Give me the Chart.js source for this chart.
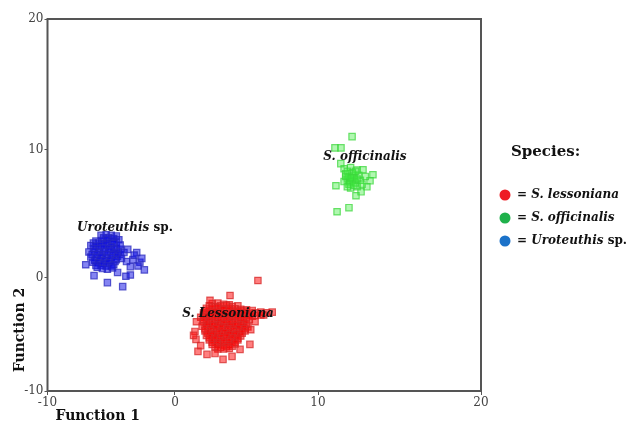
<!DOCTYPE html>
<html>
<head>
<meta charset="utf-8">
<script src="https://cdn.jsdelivr.net/npm/chart.js@4.4.1/dist/chart.umd.min.js"></script>
<style>
  html, body { margin: 0; padding: 0; background: #fff; }
  #wrap { width: 633px; height: 425px; }
</style>
</head>
<body>
<div id="wrap"><canvas id="dfaChart" width="633" height="425"></canvas></div>
<script>
'use strict';

// data
const species = ['S. lessoniana', 'S. officinalis', 'Uroteuthis sp.'];

const lessoniana = [
  [2.6, -2.3], [3.0, -2.25], [3.4, -2.35], [3.8, -2.4],
  [2.4, -2.5], [2.8, -2.55], [3.2, -2.5], [3.6, -2.45], [4.0, -2.55], [4.4, -2.5],
  [2.2, -2.7], [2.6, -2.7], [3.0, -2.65], [3.4, -2.75], [3.8, -2.7], [4.2, -2.75], [4.6, -2.8], [5.0, -2.85],
  [2.2, -2.9], [2.6, -2.95], [3.0, -2.9], [3.4, -2.85], [3.8, -2.9], [4.2, -2.95], [4.6, -2.9], [5.0, -2.95], [5.4, -2.9],
  [2.0, -3.1], [2.4, -3.1], [2.8, -3.05], [3.2, -3.1], [3.6, -3.15], [4.0, -3.1], [4.4, -3.05], [4.8, -3.1],
  [5.2, -3.15], [5.6, -3.1], [6.0, -3.05], [6.4, -3.1], [6.8, -3.05],
  [2.0, -3.3], [2.4, -3.35], [2.8, -3.3], [3.2, -3.25], [3.6, -3.3], [4.0, -3.35], [4.4, -3.3], [4.8, -3.25],
  [5.2, -3.3], [5.6, -3.35], [6.0, -3.3],
  [1.8, -3.5], [2.2, -3.5], [2.6, -3.45], [3.0, -3.5], [3.4, -3.55], [3.8, -3.5], [4.2, -3.45], [4.6, -3.5],
  [5.0, -3.55], [5.4, -3.4], [6.2, -3.3],
  [2.0, -3.7], [2.4, -3.75], [2.8, -3.7], [3.2, -3.65], [3.6, -3.7], [4.0, -3.75], [4.4, -3.7], [4.8, -3.65], [5.2, -3.7],
  [2.0, -3.9], [2.4, -3.9], [2.8, -3.95], [3.2, -3.9], [3.6, -3.85], [4.0, -3.9], [4.4, -3.95], [4.8, -3.9],
  [2.2, -4.1], [2.6, -4.1], [3.0, -4.15], [3.4, -4.1], [3.8, -4.05], [4.2, -4.1], [4.6, -4.15], [5.0, -4.1],
  [1.9, -4.3], [2.3, -4.3], [2.7, -4.25], [3.1, -4.3], [3.5, -4.35], [3.9, -4.3], [4.3, -4.25], [4.7, -4.3], [5.1, -4.35],
  [2.1, -4.5], [2.5, -4.55], [2.9, -4.5], [3.3, -4.45], [3.7, -4.5], [4.1, -4.55], [4.5, -4.5], [4.9, -4.5],
  [2.1, -4.7], [2.5, -4.7], [2.9, -4.75], [3.3, -4.7], [3.7, -4.65], [4.1, -4.7], [4.5, -4.75], [4.9, -4.7],
  [2.3, -4.9], [2.7, -4.95], [3.1, -4.9], [3.5, -4.85], [3.9, -4.9], [4.3, -4.95], [4.7, -4.9],
  [2.2, -5.1], [2.6, -5.1], [3.0, -5.15], [3.4, -5.1], [3.8, -5.05], [4.2, -5.1], [4.6, -5.15],
  [2.4, -5.3], [2.8, -5.35], [3.2, -5.3], [3.6, -5.25], [4.0, -5.3], [4.4, -5.35],
  [2.4, -5.5], [2.8, -5.5], [3.2, -5.55], [3.6, -5.5], [4.0, -5.45], [4.4, -5.5],
  [2.6, -5.7], [3.0, -5.75], [3.4, -5.7], [3.8, -5.65], [4.2, -5.7],
  [2.6, -5.9], [3.0, -5.9], [3.4, -5.95], [3.8, -5.9], [4.2, -5.85],
  [2.8, -6.1], [3.2, -6.15], [3.6, -6.1], [4.0, -6.05],
  [3.0, -6.3], [3.4, -6.3], [3.8, -6.25],
  [5.8, -0.26], [3.85, -1.58], [1.4, -4.75], [1.47, -5.45], [1.61, -6.51], [2.24, -6.77], [3.36, -7.21],
  [3.99, -6.95], [4.55, -6.33], [5.24, -5.89], [5.3, -4.6], [2.45, -2.0], [1.5, -3.9], [5.6, -3.9],
  [1.8, -6.0], [2.8, -6.7], [1.3, -5.1],
];

const officinalis = [
  [11.6, 8.5], [12.0, 8.6], [12.4, 8.4], [11.7, 8.1], [12.1, 8.2], [12.5, 8.0], [11.8, 7.7], [12.2, 7.8],
  [12.6, 7.6], [11.9, 7.3], [12.3, 7.4], [12.0, 7.0], [12.4, 7.1], [11.6, 7.5], [12.1, 7.6], [11.9, 7.9],
  [12.2, 8.0], [11.95, 7.5], [11.8, 8.3], [12.3, 8.3], [12.0, 7.8], [12.4, 7.7], [11.8, 7.1], [12.2, 7.2],
  [11.7, 7.9],
  [12.09, 10.99], [11.04, 10.13], [11.41, 10.13], [12.76, 8.42], [13.37, 8.03], [13.19, 7.56], [13.0, 7.09],
  [12.64, 6.7], [12.33, 6.39], [11.1, 7.17], [11.17, 5.14], [11.9, 5.46], [12.9, 7.9], [11.4, 8.9], [12.7, 7.3],
];

const uroteuthis = [
  [-5.8, 3.3], [-5.4, 3.35], [-5.0, 3.3], [-4.6, 3.25], [-4.4, 2.95],
  [-5.6, 3.1], [-5.2, 3.1], [-4.8, 3.05],
  [-6.2, 2.85], [-5.75, 2.9], [-5.35, 2.95], [-4.95, 2.85], [-4.6, 2.75],
  [-6.4, 2.7], [-6.0, 2.7], [-5.6, 2.65], [-5.2, 2.7], [-4.8, 2.65],
  [-6.6, 2.5], [-6.2, 2.45], [-5.8, 2.5], [-5.4, 2.55], [-5.0, 2.4], [-4.6, 2.3], [-4.25, 2.2],
  [-6.4, 2.25], [-6.0, 2.25], [-5.6, 2.3], [-5.2, 2.25], [-4.8, 2.2], [-4.45, 2.0],
  [-6.75, 2.0], [-6.3, 2.05], [-5.9, 1.95], [-5.5, 2.0], [-5.1, 2.05], [-4.7, 1.9], [-4.3, 1.8],
  [-6.5, 1.8], [-6.1, 1.8], [-5.7, 1.75], [-5.3, 1.8], [-4.9, 1.75], [-4.5, 1.65],
  [-6.6, 1.6], [-6.2, 1.55], [-5.8, 1.6], [-5.4, 1.5], [-5.0, 1.55], [-4.6, 1.4],
  [-6.3, 1.35], [-5.9, 1.35], [-5.5, 1.3], [-5.1, 1.35], [-4.7, 1.25],
  [-6.45, 1.2], [-6.0, 1.15], [-5.6, 1.1], [-5.2, 1.15], [-4.8, 1.0],
  [-6.2, 0.95], [-5.8, 0.95], [-5.4, 0.9], [-5.0, 0.9],
  [-6.1, 0.8], [-5.7, 0.7], [-5.3, 0.65], [-4.9, 0.75],
  [-4.3, 2.55], [-4.0, 1.95], [-3.7, 2.2], [-3.3, 1.4], [-3.0, 1.95], [-2.75, 1.2], [-2.4, 0.6],
  [-3.8, 1.25], [-3.5, 0.85], [-3.85, 0.1], [-3.5, 0.2], [-4.1, -0.8], [-5.3, -0.45], [-6.35, 0.15],
  [-7.0, 1.0], [-4.5, 0.4], [-3.2, 1.75], [-2.6, 1.5], [-4.2, 1.5], [-2.9, 0.9],
];

const xTickValues = [-10, 0, 10, 20];
const yTickValues = [-10, 0, 10, 20];

// the original plot's ticks are not evenly spaced; fraction of axis length at each tick
const tickFractions = {
  x: [0, 0.294, 0.624, 1],
  y: [0, 0.305, 0.649, 1],
};

class UnevenScale extends Chart.LinearScale {
  getPixelForValue(value) {
    if (value === null || isNaN(value)) return NaN;
    const stops = this.axis === 'x' ? xTickValues : yTickValues;
    const fr = tickFractions[this.axis];
    let i = 0;
    while (i < stops.length - 2 && value > stops[i + 1]) i++;
    const t = (value - stops[i]) / (stops[i + 1] - stops[i]);
    return this.getPixelForDecimal(fr[i] + t * (fr[i + 1] - fr[i]));
  }
  getValueForPixel(pixel) {
    const stops = this.axis === 'x' ? xTickValues : yTickValues;
    const fr = tickFractions[this.axis];
    const d = this.getDecimalForPixel(pixel);
    let i = 0;
    while (i < fr.length - 2 && d > fr[i + 1]) i++;
    const t = (d - fr[i]) / (fr[i + 1] - fr[i]);
    return stops[i] + t * (stops[i + 1] - stops[i]);
  }
}
UnevenScale.id = 'uneven';
Chart.register(UnevenScale);

const toPoints = (arr) => arr.map(([x, y]) => ({ x, y }));

const serif = '"DejaVu Serif", "Liberation Serif", serif';

const overlay = {
  id: 'overlay',
  afterDatasetsDraw(chart) {
    const { ctx, chartArea: a, scales: { x, y } } = chart;
    ctx.save();
    ctx.strokeStyle = '#555';
    ctx.lineWidth = 2;
    ctx.strokeRect(a.left, a.top, a.right - a.left, a.bottom - a.top);

    // cluster names
    ctx.fillStyle = '#111';
    ctx.textBaseline = 'middle';
    ctx.textAlign = 'center';
    ctx.font = 'italic bold 12px ' + serif;
    ctx.fillText('S. Lessoniana', x.getPixelForValue(3.71), y.getPixelForValue(-3.17));
    ctx.fillText('S. officinalis', x.getPixelForValue(12.88), y.getPixelForValue(9.43));

    const ux = x.getPixelForValue(-3.92), uy = y.getPixelForValue(3.9);
    ctx.font = 'italic bold 12px ' + serif;
    const w1 = ctx.measureText('Uroteuthis ').width;
    ctx.font = 'bold 12px ' + serif;
    const w2 = ctx.measureText('sp.').width;
    ctx.textAlign = 'left';
    ctx.font = 'italic bold 12px ' + serif;
    ctx.fillText('Uroteuthis ', ux - (w1 + w2) / 2, uy);
    ctx.font = 'bold 12px ' + serif;
    ctx.fillText('sp.', ux - (w1 + w2) / 2 + w1, uy);
    ctx.restore();
  },
  afterDraw(chart) {
    const { ctx, chartArea: a } = chart;
    ctx.save();
    ctx.fillStyle = '#111';
    ctx.textBaseline = 'middle';

    // axis titles
    ctx.font = 'bold 14px ' + serif;
    ctx.textAlign = 'left';
    ctx.fillText('Function 1', a.left + 8, 416);
    ctx.translate(20, 330);
    ctx.rotate(-Math.PI / 2);
    ctx.textAlign = 'center';
    ctx.fillText('Function 2', 0, 0);
    ctx.restore();

    // legend
    ctx.save();
    const lx = a.right + 24;
    ctx.fillStyle = '#111';
    ctx.textBaseline = 'middle';
    ctx.textAlign = 'left';
    ctx.font = 'bold 15px ' + serif;
    ctx.fillText('Species:', lx + 6, 152);
    const dotColors = ['#ee1c24', '#1fb14b', '#1b72c9'];
    species.forEach((name, i) => {
      const ly = 195 + i * 23;
      ctx.fillStyle = dotColors[i];
      ctx.beginPath();
      ctx.arc(lx, ly, 5.5, 0, Math.PI * 2);
      ctx.fill();
      ctx.fillStyle = '#111';
      let tx = lx + 12;
      ctx.font = 'bold 12px ' + serif;
      ctx.fillText('= ', tx, ly);
      tx += ctx.measureText('= ').width;
      const parts = name.endsWith(' sp.') ? [name.slice(0, -3), 'sp.'] : [name];
      ctx.font = 'italic bold 12px ' + serif;
      ctx.fillText(parts[0], tx, ly);
      if (parts[1]) {
        tx += ctx.measureText(parts[0]).width;
        ctx.font = 'bold 12px ' + serif;
        ctx.fillText(parts[1], tx, ly);
      }
    });
    ctx.restore();
  },
};

const ctx = document.getElementById('dfaChart').getContext('2d');

const tickFont = { family: serif, size: 12 };

new Chart(ctx, {
  type: 'scatter',
  data: {
    datasets: [
      {
        label: species[2],
        data: toPoints(uroteuthis),
        pointStyle: 'rect',
        pointRadius: 4.5,
        borderWidth: 1.2,
        borderColor: 'rgba(40, 40, 190, 0.75)',
        backgroundColor: 'rgba(10, 10, 230, 0.5)',
      },
      {
        label: species[0],
        data: toPoints(lessoniana),
        pointStyle: 'rect',
        pointRadius: 4.5,
        borderWidth: 1.2,
        borderColor: 'rgba(215, 40, 40, 0.75)',
        backgroundColor: 'rgba(255, 0, 0, 0.5)',
      },
      {
        label: species[1],
        data: toPoints(officinalis),
        pointStyle: 'rect',
        pointRadius: 4.5,
        borderWidth: 1.2,
        borderColor: 'rgba(60, 215, 60, 0.75)',
        backgroundColor: 'rgba(60, 235, 60, 0.4)',
      },
    ],
  },
  options: {
    responsive: false,
    animation: false,
    layout: { padding: { top: 19, right: 152, left: 0, bottom: 0 } },
    plugins: {
      legend: { display: false },
      tooltip: { enabled: false },
    },
    scales: {
      x: {
        type: 'uneven',
        min: -10,
        max: 20,
        afterBuildTicks: (s) => { s.ticks = xTickValues.map((v) => ({ value: v })); },
        afterFit: (s) => { s.height = 34; },
        ticks: { font: tickFont, color: '#444', padding: 1, maxRotation: 0 },
        grid: { drawOnChartArea: false, tickLength: 4, color: '#555' },
        border: { display: false },
      },
      y: {
        type: 'uneven',
        min: -10,
        max: 20,
        afterBuildTicks: (s) => { s.ticks = yTickValues.map((v) => ({ value: v })); },
        afterFit: (s) => { s.width = 47.5; },
        ticks: { font: tickFont, color: '#444', padding: 1 },
        grid: { drawOnChartArea: false, tickLength: 3, color: '#555' },
        border: { display: false },
      },
    },
  },
  plugins: [overlay],
});
</script>
</body>
</html>
